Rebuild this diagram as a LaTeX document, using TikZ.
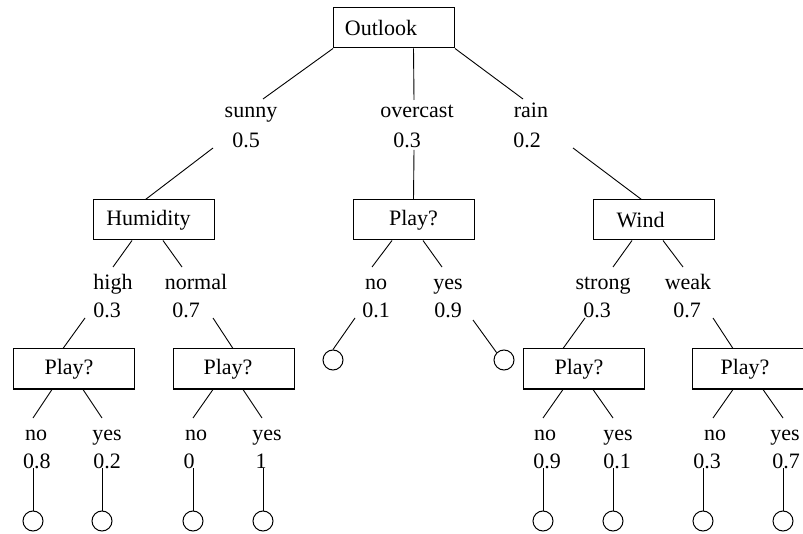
\documentclass[tikz,border=0pt]{standalone}
\usepackage{fontspec}
\setmainfont{Liberation Serif}
\begin{document}
\begin{tikzpicture}[x=1pt,y=-1pt,
  every node/.style={font=\fontsize{22}{26}\selectfont},
  box/.style={draw, line width=1pt, minimum width=121pt, minimum height=40pt, inner sep=0pt},
  boxtext/.style={inner sep=0pt},
  lbl/.style={anchor=base, inner sep=0pt},
  leaf/.style={draw, circle, line width=1pt, minimum size=20pt, inner sep=0pt},
  conn/.style={line width=0.9pt}]
\useasboundingbox (0,0) rectangle (803,534);
\clip (0,0) rectangle (803,534);

% decision boxes
\node[box] (outlook)  at (394,28)    {};
\node[box] (humidity) at (153.5,220) {};
\node[box] (play0)    at (413.5,220) {};
\node[box] (wind)     at (653.5,220) {};
\node[box] (playA)    at (74,369)    {};
\node[box] (playB)    at (234,369)   {};
\node[box] (playC)    at (584,369)   {};
\node[box] (playD)    at (753,369)   {};

% their captions, set a little left of centre
\node[boxtext] (t-outlook)  at ([shift={(-13,0)}]outlook)  {Outlook};
\node[boxtext] (t-humidity) at ([shift={(-5,0)}]humidity)  {Humidity};
\node[boxtext] (t-play0)    at (play0)                     {Play?};
\node[boxtext] (t-wind)     at ([shift={(-13,0)}]wind)     {Wind};
\node[boxtext] (t-playA)    at ([shift={(-5,0)}]playA)     {Play?};
\node[boxtext] (t-playB)    at ([shift={(-6,0)}]playB)     {Play?};
\node[boxtext] (t-playC)    at ([shift={(-5,0)}]playC)     {Play?};
\node[boxtext] (t-playD)    at ([shift={(-8,0)}]playD)     {Play?};

% branch labels: value and probability
\node[lbl] (w-sunny)    at (251,118) {sunny};
\node[lbl] (p-sunny)    at (246,148) {0.5};
\node[lbl] (w-overcast) at (417,118) {overcast};
\node[lbl] (p-overcast) at (407,148) {0.3};
\node[lbl] (w-rain)     at (531,118) {rain};
\node[lbl] (p-rain)     at (527,148) {0.2};

\node[lbl] (w-high)   at (113,290) {high};
\node[lbl] (p-high)   at (107,318) {0.3};
\node[lbl] (w-normal) at (196,290) {normal};
\node[lbl] (p-normal) at (186,318) {0.7};
\node[lbl] (w-no0)    at (376,290) {no};
\node[lbl] (p-no0)    at (376,318) {0.1};
\node[lbl] (w-yes0)   at (448,290) {yes};
\node[lbl] (p-yes0)   at (448,318) {0.9};
\node[lbl] (w-strong) at (603,290) {strong};
\node[lbl] (p-strong) at (597,318) {0.3};
\node[lbl] (w-weak)   at (688,290) {weak};
\node[lbl] (p-weak)   at (687,318) {0.7};

\node[lbl] (w-A1) at (36,440)  {no};
\node[lbl] (p-A1) at (37,468)  {0.8};
\node[lbl] (w-A2) at (107,440) {yes};
\node[lbl] (p-A2) at (107,468) {0.2};
\node[lbl] (w-B1) at (196,440) {no};
\node[lbl] (p-B1) at (189,468) {0};
\node[lbl] (w-B2) at (267,440) {yes};
\node[lbl] (p-B2) at (261,468) {1};
\node[lbl] (w-C1) at (545,440) {no};
\node[lbl] (p-C1) at (547,468) {0.9};
\node[lbl] (w-C2) at (618,440) {yes};
\node[lbl] (p-C2) at (617,468) {0.1};
\node[lbl] (w-D1) at (715,440) {no};
\node[lbl] (p-D1) at (707,468) {0.3};
\node[lbl] (w-D2) at (785,440) {yes};
\node[lbl] (p-D2) at (786,468) {0.7};

% leaves
\node[leaf] (leaf-no0)  at (333,360) {};
\node[leaf] (leaf-yes0) at (504,360) {};
\node[leaf] (leaf-A1) at (33,521)  {};
\node[leaf] (leaf-A2) at (102,521) {};
\node[leaf] (leaf-B1) at (193,521) {};
\node[leaf] (leaf-B2) at (263,521) {};
\node[leaf] (leaf-C1) at (543,521) {};
\node[leaf] (leaf-C2) at (613,521) {};
\node[leaf] (leaf-D1) at (703,521) {};
\node[leaf] (leaf-D2) at (783,521) {};

% Outlook branches
\draw[conn] (outlook.south west) -- ([shift={(12,-19)}]w-sunny.base);
\draw[conn] ([shift={(-33,0)}]p-sunny.base) -- ([shift={(-8,0)}]humidity.north);
\draw[conn] (outlook.south -| play0.north) -- ([shift={(-3,-18)}]w-overcast.base);
\draw[conn] ([shift={(7,2)}]p-overcast.base) -- (play0.north);
\draw[conn] (outlook.south east) -- ([shift={(-8,-19)}]w-rain.base);
\draw[conn] ([shift={(46,0)}]p-rain.base) -- ([shift={(-12,0)}]wind.north);

% Humidity branches
\draw[conn] ([shift={(-21.5,0)}]humidity.south) -- ([shift={(0,-23)}]w-high.base);
\draw[conn] ([shift={(-22,0)}]p-high.base) -- ([shift={(-11,0)}]playA.north);
\draw[conn] ([shift={(9.5,0)}]humidity.south) -- ([shift={(-14,-23)}]w-normal.base);
\draw[conn] ([shift={(27,0)}]p-normal.base) -- ([shift={(-1,0)}]playB.north);

% Play? under overcast
\draw[conn] ([shift={(-21.5,0)}]play0.south) -- ([shift={(-4,-23)}]w-no0.base);
\draw[conn] ([shift={(-21,0)}]p-no0.base) -- (leaf-no0.north);
\draw[conn] ([shift={(9.5,0)}]play0.south) -- ([shift={(-6,-23)}]w-yes0.base);
\draw[conn] ([shift={(25,2)}]p-yes0.base) -- (leaf-yes0.north west);

% Wind branches
\draw[conn] ([shift={(-21.5,0)}]wind.south) -- ([shift={(10,-23)}]w-strong.base);
\draw[conn] ([shift={(-12,0)}]p-strong.base) -- ([shift={(-21,0)}]playC.north);
\draw[conn] ([shift={(9.5,0)}]wind.south) -- ([shift={(-5,-23)}]w-weak.base);
\draw[conn] ([shift={(26,0)}]p-weak.base) -- ([shift={(-20,0)}]playD.north);

% bottom Play? branches
\draw[conn] ([shift={(-22,0)}]playA.south) -- ([shift={(-3,-22)}]w-A1.base);
\draw[conn] ([shift={(9,0)}]playA.south)   -- ([shift={(-5,-22)}]w-A2.base);
\draw[conn] ([shift={(-21,0)}]playB.south) -- ([shift={(-3,-22)}]w-B1.base);
\draw[conn] ([shift={(9,0)}]playB.south)   -- ([shift={(-5,-22)}]w-B2.base);
\draw[conn] ([shift={(-21,0)}]playC.south) -- ([shift={(-2,-22)}]w-C1.base);
\draw[conn] ([shift={(9,0)}]playC.south)   -- ([shift={(-5,-22)}]w-C2.base);
\draw[conn] ([shift={(-20,0)}]playD.south) -- ([shift={(-2,-22)}]w-D1.base);
\draw[conn] ([shift={(10,0)}]playD.south)  -- ([shift={(-2,-22)}]w-D2.base);

% stems down to the leaves
\foreach \k in {A1,A2,B1,B2,C1,C2,D1,D2}
  \draw[conn] (leaf-\k.north |- p-\k.base) -- (leaf-\k.north);
\end{tikzpicture}
\end{document}
